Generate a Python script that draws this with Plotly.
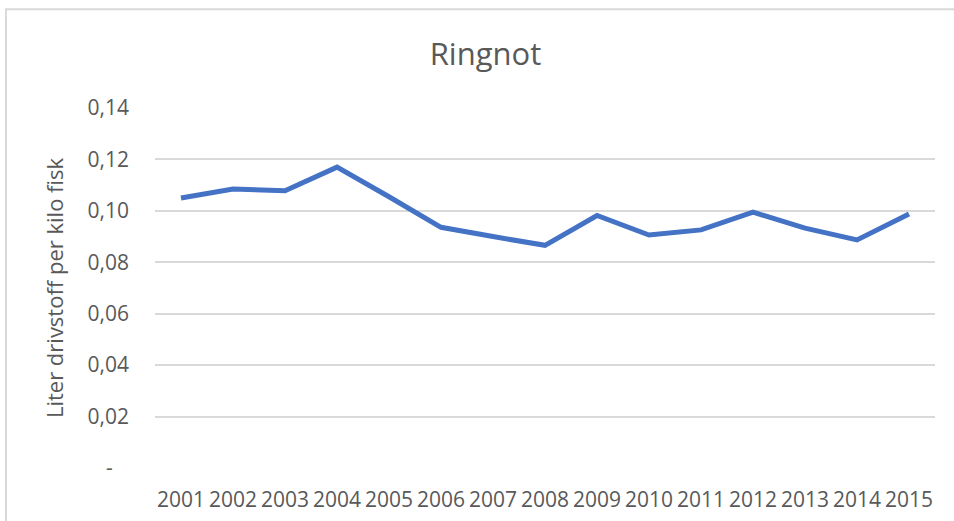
import plotly.graph_objects as go

# Ringnot - liter drivstoff per kilo fisk
years = ["2001", "2002", "2003", "2004", "2005", "2006", "2007", "2008",
         "2009", "2010", "2011", "2012", "2013", "2014", "2015"]
liter_per_kg = [0.1050, 0.1085, 0.1078, 0.1170, 0.1055, 0.0936, 0.0900, 0.0866,
                0.0982, 0.0906, 0.0926, 0.0995, 0.0933, 0.0887, 0.0988]

ytick_vals = [0, 0.02, 0.04, 0.06, 0.08, 0.10, 0.12, 0.14]
ytick_text = ["-\u00a0\u00a0\u00a0", "0,02", "0,04", "0,06", "0,08", "0,10", "0,12", "0,14"]

txt_color = "#595959"
grid_color = "#d9d9d9"

fig = go.Figure()
fig.add_trace(go.Scatter(
    x=years,
    y=liter_per_kg,
    mode="lines",
    name="Ringnot",
    line=dict(color="#4472c4", width=5),
))

fig.update_layout(
    width=954,
    height=521,
    margin=dict(l=155, r=19, t=108, b=53),
    paper_bgcolor="white",
    plot_bgcolor="white",
    showlegend=False,
    font=dict(family="Open Sans", color=txt_color, size=21),
    title=dict(
        text="Ringnot",
        x=485.5 / 954, xanchor="center",
        y=1 - 54 / 521, yanchor="middle",
        font=dict(size=31, color=txt_color),
    ),
    xaxis=dict(
        type="category",
        range=[-0.5, len(years) - 0.5],
        showgrid=False,
        showline=False,
        zeroline=False,
        ticks="",
        ticklabelstandoff=17,
        tickfont=dict(size=21, color=txt_color),
        automargin=False,
    ),
    yaxis=dict(
        range=[0, 0.14],
        tickvals=ytick_vals,
        ticktext=ytick_text,
        showgrid=True,
        gridcolor=grid_color,
        gridwidth=1.5,
        zeroline=False,
        showline=False,
        ticks="",
        ticklabelstandoff=25,
        tickfont=dict(size=21, color=txt_color),
        title=dict(text="Liter drivstoff per kilo fisk", standoff=17,
                   font=dict(size=22, color=txt_color)),
        automargin=False,
    ),
    shapes=[dict(
        type="rect", xref="paper", yref="paper",
        x0=-0.191, x1=1.2, y0=-0.3, y1=1.274,
        line=dict(color=grid_color, width=2),
        fillcolor="rgba(0,0,0,0)",
        layer="below",
    )],
)

# page has a default body margin; drop it so the figure fills the window
fig.write_html("out.html",
               config={"displayModeBar": False},
               post_script="document.body.style.margin='0';document.body.style.overflow='hidden';")
